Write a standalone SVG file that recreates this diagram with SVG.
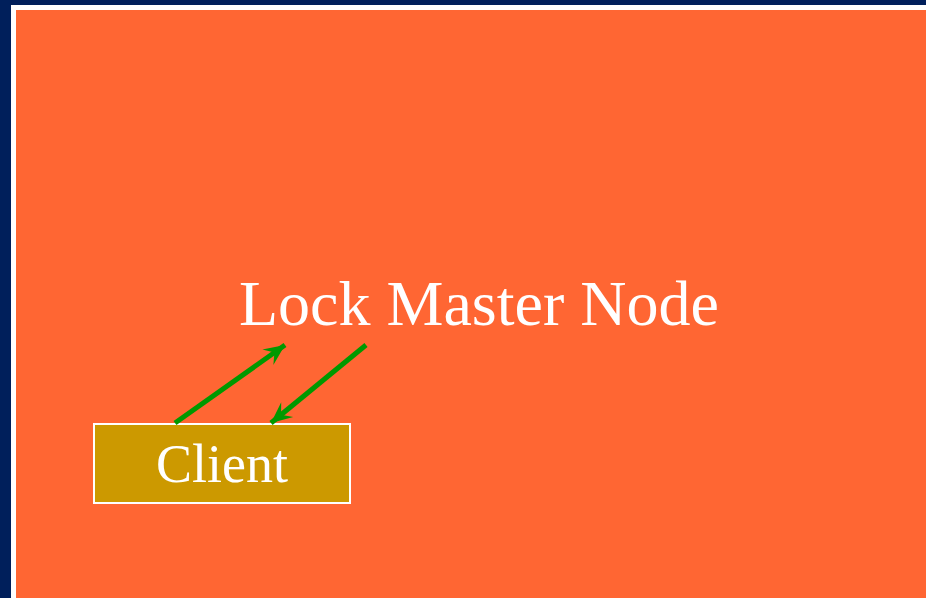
<svg xmlns="http://www.w3.org/2000/svg" width="926" height="598" viewBox="0 0 926 598">
  <style>
    .label { font-family: "Liberation Serif", "Times New Roman", serif; fill: #ffffff; }
    .link { stroke: #009900; stroke-width: 5; fill: none; }
  </style>
  <defs>
    <marker id="head" markerUnits="userSpaceOnUse" markerWidth="26" markerHeight="26" viewBox="-24 -13 26 26" refX="0" refY="0" orient="auto">
      <path d="M0,0 L-21,-9.5 L-13,0 L-21,9.5 Z" fill="#009900"/>
    </marker>
  </defs>

  <!-- frame -->
  <rect x="0" y="0" width="926" height="598" fill="#001F5B"/>
  <rect x="11" y="5" width="915" height="593" fill="#ffffff"/>
  <rect x="16" y="10" width="910" height="588" fill="#FF6633"/>

  <g id="lock-master-node">
    <text class="label" x="239" y="325" font-size="64">Lock Master Node</text>
  </g>

  <g id="client">
    <rect x="94" y="424" width="256" height="79" fill="#CC9900" stroke="#ffffff" stroke-width="2"/>
    <text class="label" x="222" y="482" font-size="54" text-anchor="middle">Client</text>
  </g>

  <g id="connectors">
    <line class="link" x1="175" y1="423" x2="285" y2="345" marker-end="url(#head)"/>
    <line class="link" x1="366" y1="345" x2="271" y2="423" marker-end="url(#head)"/>
  </g>
</svg>
